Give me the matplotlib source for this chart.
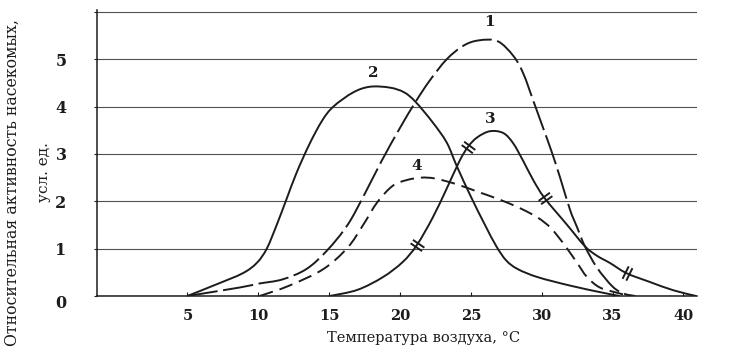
import numpy as np
import matplotlib
matplotlib.use("Agg")
import matplotlib.pyplot as plt
from matplotlib.path import Path
from matplotlib.patches import PathPatch
from matplotlib.markers import MarkerStyle
from matplotlib.transforms import Affine2D

plt.rcParams['font.family'] = ['DejaVu Serif']
plt.rcParams['lines.scale_dashes'] = False

# curve 1 (long dashes)
t1 = [5, 8.7, 10.0, 11.7, 13.4, 14.85, 16.3, 17.5, 18.7, 20.0, 21.1, 22.1, 23.3, 24.5,
      25.6, 26.9, 28.0, 28.7, 29.4, 30.1, 30.7, 31.3, 32.0, 32.5, 33.05, 33.9, 35.0, 35.8, 36.6]
a1 = [0, 0.18, 0.26, 0.35, 0.57, 0.96, 1.5, 2.15, 2.85, 3.55, 4.1, 4.55, 5.0, 5.29,
      5.4, 5.38, 5.07, 4.7, 4.13, 3.55, 3.05, 2.5, 1.82, 1.45, 1.05, 0.6, 0.2, 0.05, 0]

# curve 2 (solid)
t2 = [5, 7, 8.9, 9.9, 10.6, 11.3, 12.0, 12.7, 13.6, 14.5, 15.3, 16.7, 17.9, 19.3, 20.3, 21.1,
      22.3, 23.3, 24.0, 25.0, 26.0, 26.8, 27.5, 28.3, 29.7, 32.0, 34.3, 35.5]
a2 = [0, 0.24, 0.48, 0.7, 1.0, 1.5, 2.05, 2.6, 3.2, 3.7, 4.0, 4.3, 4.42, 4.4, 4.3, 4.1,
      3.67, 3.24, 2.75, 2.1, 1.5, 1.05, 0.75, 0.57, 0.4, 0.22, 0.07, 0]

# curve 3 (solid with // marks)
t3 = [15.05, 17.0, 18.8, 20.2, 21.2, 22.3, 23.3, 24.2, 24.8, 25.45, 26.35, 27.3, 28.0,
      28.7, 29.4, 30.2, 31.8, 33.05, 33.9, 34.8, 36.0, 37.6, 39.3, 40.9]
a3 = [0, 0.13, 0.4, 0.72, 1.08, 1.65, 2.27, 2.85, 3.15, 3.35, 3.48, 3.44, 3.22,
      2.85, 2.45, 2.07, 1.5, 1.05, 0.85, 0.7, 0.48, 0.3, 0.12, 0]
marks_t = [21.2, 24.8, 30.2, 36.0]
marks_a = [1.08, 3.15, 2.07, 0.48]

# curve 4 (short dashes)
t4 = [10.1, 12.2, 14.6, 16.3, 17.4, 18.4, 19.5, 20.5, 21.5, 22.5, 24.0, 25.5, 27.0,
      28.5, 29.7, 30.6, 31.3, 31.8, 32.5, 33.2, 34.1, 35.3, 36.2]
a4 = [0, 0.22, 0.57, 1.02, 1.5, 1.98, 2.33, 2.45, 2.5, 2.48, 2.36, 2.2, 2.04,
      1.85, 1.66, 1.45, 1.2, 1.0, 0.7, 0.4, 0.18, 0.07, 0]

labels = ['1', '2', '3', '4']
label_t = [26.35, 18.1, 26.35, 21.2]
label_a = [5.78, 4.7, 3.73, 2.75]

xticks = [5, 10, 15, 20, 25, 30, 35, 40]
yticks = [0, 1, 2, 3, 4, 5, 6]
ytick_labels = ['0', '1', '2', '3', '4', '5', '']

ink = '#1c1c1c'


def smooth_path(xs, ys):
    # Catmull-Rom through the read points, handed to matplotlib as cubic Bezier segments
    p = np.column_stack([xs, ys]).astype(float)
    verts = [p[0]]
    codes = [Path.MOVETO]
    for i in range(len(p) - 1):
        prev = p[i - 1] if i > 0 else p[i]
        nxt = p[i + 2] if i + 2 < len(p) else p[i + 1]
        c1 = p[i] + (p[i + 1] - prev) / 6
        c2 = p[i + 1] - (nxt - p[i]) / 6
        verts += [c1, c2, p[i + 1]]
        codes += [Path.CURVE4] * 3
    return Path(verts, codes)


fig = plt.figure(figsize=(7.38, 3.59), dpi=100)
ax = fig.add_axes([97 / 738, 63 / 359, 600 / 738, 286 / 359])
ax.set_xlim(-1.38, 40.96)
ax.set_ylim(0, 6.04)

styles = [(22, 4), None, None, (10, 5)]
for (ts, vs), st in zip([(t1, a1), (t2, a2), (t3, a3), (t4, a4)], styles):
    ls = '-' if st is None else (0, st)
    ax.add_patch(PathPatch(smooth_path(ts, vs), fill=False, edgecolor=ink, lw=1.4,
                           linestyle=ls, capstyle='butt'))

# double-stroke marks on curve 3, drawn across the line
for mt, ma in zip(marks_t, marks_a):
    p0 = ax.transData.transform((mt - 0.3, np.interp(mt - 0.3, t3, a3)))
    p1 = ax.transData.transform((mt + 0.3, np.interp(mt + 0.3, t3, a3)))
    ang = np.degrees(np.arctan2(p1[1] - p0[1], p1[0] - p0[0]))
    path = Path([(-0.3, -1), (-0.3, 1), (0.3, -1), (0.3, 1)],
                [Path.MOVETO, Path.LINETO, Path.MOVETO, Path.LINETO])
    m = MarkerStyle(path, transform=Affine2D().rotate_deg(ang))
    ax.plot([mt], [ma], marker=m, ms=10, mec=ink, mfc='none', mew=1.4, ls='none')

for lab, lt, la in zip(labels, label_t, label_a):
    ax.text(lt, la, lab, ha='center', va='center', fontsize=11, fontweight='bold', color=ink)

ax.set_yticks(yticks)
ax.set_yticklabels(ytick_labels)
ax.set_xticks(xticks)
ax.grid(axis='y', color='#505050', lw=0.8)
ax.set_axisbelow(True)
for s in ['top', 'right']:
    ax.spines[s].set_visible(False)
for s in ['left', 'bottom']:
    ax.spines[s].set_color(ink)
    ax.spines[s].set_linewidth(1.1)
ax.tick_params(axis='x', direction='in', length=3, pad=9, labelsize=10.5, colors=ink)
ax.tick_params(axis='y', direction='out', length=2, pad=20, labelsize=11.5, colors=ink)
for lab in ax.get_xticklabels() + ax.get_yticklabels():
    lab.set_fontweight('bold')
for lab in ax.get_yticklabels():
    if lab.get_text() == '0':
        lab.set_transform(lab.get_transform() + Affine2D().translate(0, -6))

fig.text(424 / 738, 1 - 338 / 359, 'Температура воздуха, °C', ha='center', va='center',
         fontsize=10.5, color=ink)
fig.text(12 / 738, 1 - 183 / 359, 'Относительная активность насекомых,', rotation=90,
         ha='center', va='center', fontsize=11.3, color=ink)
fig.text(44 / 738, 1 - 172 / 359, 'усл. ед.', rotation=90,
         ha='center', va='center', fontsize=11, color=ink)

fig.savefig('out.png', dpi=100)
